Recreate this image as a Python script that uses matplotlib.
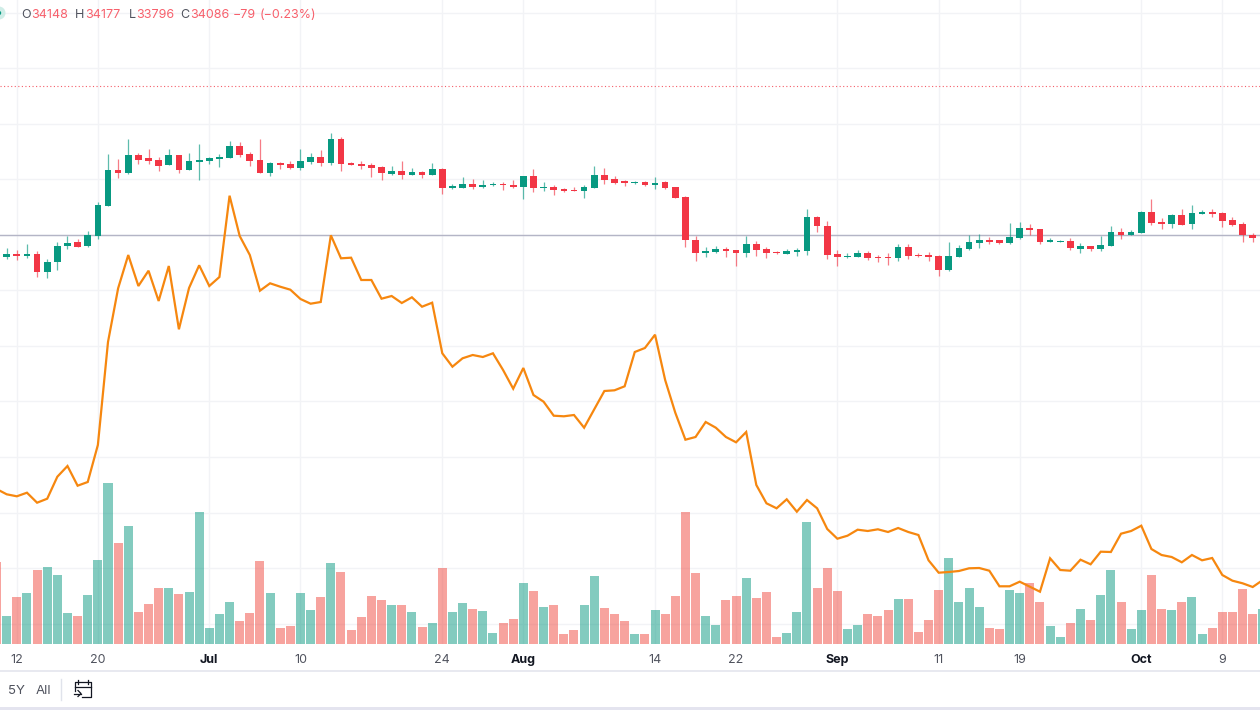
#! /usr/bin/env python3

import numpy as np
import matplotlib.pyplot as plt
from matplotlib.patches import Circle, Rectangle

plt.rcParams['font.family'] = ['Inter', 'DejaVu Sans']

opens = [33100, 33220, 33145, 33220, 32425, 32860, 33565, 33775, 33565, 34030,
         35395, 37015, 36865, 37660, 37540, 37435, 37240, 37660, 37015, 37375,
         37420, 37495, 37540, 38080, 37705, 37450, 36850, 37330, 37270, 37105,
         37360, 37570, 37315, 38380, 37315, 37270, 37240, 37150, 36805, 36940,
         36775, 36910, 36775, 37060, 36190, 36205, 36385, 36220, 36310, 36385,
         36340, 36220, 36730, 36175, 36220, 36130, 36100, 36055, 36175, 36760,
         36595, 36490, 36400, 36475, 36310, 36445, 36220, 35800, 33850, 33280,
         33310, 33430, 33385, 33280, 33685, 33430, 33310, 33235, 33310, 33355,
         34870, 34480, 33220, 33070, 33100, 33265, 33100, 33070, 33025, 33520,
         33190, 33190, 33145, 32485, 33100, 33445, 33730, 33865, 33835, 33730,
         33955, 34405, 34330, 33775, 33775, 33820, 33445, 33565, 33445, 33580,
         34225, 34090, 34165, 35110, 34660, 34570, 34960, 34585, 35035, 35125,
         35080, 34750, 34570, 34075]
closes = [33220, 33145, 33235, 32425, 32875, 33595, 33730, 33550, 34075, 35410,
          37015, 36850, 37660, 37450, 37405, 37195, 37660, 37015, 37405, 37450,
          37540, 37570, 38080, 37660, 37405, 36865, 37315, 37240, 37105, 37405,
          37570, 37315, 38380, 37270, 37240, 37195, 37105, 36850, 36940, 36775,
          36895, 36775, 37060, 36190, 36280, 36385, 36220, 36340, 36385, 36310,
          36220, 36730, 36190, 36220, 36100, 36070, 36055, 36220, 36775, 36550,
          36430, 36400, 36475, 36310, 36430, 36175, 35755, 33835, 33280, 33355,
          33445, 33355, 33280, 33685, 33400, 33280, 33250, 33355, 33400, 34870,
          34465, 33190, 33070, 33130, 33265, 33055, 33025, 33025, 33520, 33145,
          33130, 33085, 32485, 33130, 33475, 33760, 33865, 33760, 33730, 33985,
          34405, 34285, 33775, 33835, 33820, 33475, 33580, 33445, 33610, 34225,
          34075, 34195, 35125, 34615, 34570, 34960, 34540, 35080, 35125, 35035,
          34705, 34540, 34075, 33955]
highs = [33475, 33385, 33685, 33340, 33010, 33745, 34015, 33895, 34240, 35545,
         37705, 37480, 38380, 37780, 37945, 37600, 37945, 37660, 37780, 38170,
         37600, 37735, 38290, 38245, 37810, 38380, 37375, 37360, 37390, 37945,
         37750, 37900, 38665, 38500, 37345, 37390, 37315, 37180, 37180, 37390,
         37075, 36970, 37315, 37090, 36385, 36685, 36595, 36550, 36445, 36475,
         36550, 36730, 37030, 36445, 36340, 36190, 36235, 36310, 37195, 37105,
         36730, 36550, 36520, 36490, 36685, 36490, 36250, 35815, 34015, 33535,
         33565, 33550, 33400, 34030, 33820, 33535, 33340, 33430, 33490, 35245,
         34915, 34705, 33400, 33250, 33400, 33340, 33160, 33265, 33655, 33685,
         33250, 33310, 33160, 33775, 33640, 34090, 34105, 33985, 33850, 34615,
         34660, 34570, 34345, 33940, 33865, 33940, 33700, 33595, 34030, 34495,
         34405, 34285, 35155, 35680, 34840, 35020, 35245, 35425, 35185, 35245,
         35095, 34870, 34660, 34150]
lows = [32980, 32935, 33025, 32200, 32155, 32515, 33445, 33520, 33535, 33910,
        35380, 36640, 36835, 37270, 37270, 36940, 37225, 36880, 37015, 36550,
        37270, 37150, 37525, 37570, 37195, 36850, 36730, 37060, 37060, 36985,
        37270, 37195, 37225, 36970, 37225, 37060, 36685, 36550, 36790, 36595,
        36760, 36640, 36775, 35935, 36145, 36205, 36130, 36205, 36295, 36100,
        36205, 35680, 36010, 36040, 35890, 36010, 36055, 35740, 36175, 36385,
        36355, 36265, 36385, 36295, 36145, 36145, 35755, 33520, 32890, 33100,
        33280, 33100, 32680, 33100, 33145, 33055, 33235, 33220, 33145, 33190,
        34195, 32980, 32695, 33055, 33085, 32935, 32860, 32725, 32890, 32980,
        33085, 32890, 32245, 32470, 33070, 33415, 33490, 33685, 33655, 33655,
        33910, 34090, 33655, 33745, 33760, 33415, 33280, 33370, 33370, 33565,
        33910, 34090, 34165, 34540, 34360, 34390, 34540, 34360, 35005, 34885,
        34450, 34495, 33775, 33775]

# these two lists run one bar further on each side, cut by the window
volumes = [248,
           85, 143, 154, 222, 233, 208, 95, 85, 149, 253,
           483, 303, 354, 98, 121, 169, 169, 152, 157, 396,
           50, 90, 127, 70, 95, 250, 154, 50, 54, 154,
           104, 141, 244, 217, 43, 82, 146, 132, 118, 118,
           98, 53, 64, 228, 98, 123, 106, 101, 33, 64,
           76, 185, 160, 112, 118, 31, 42, 118, 205, 109,
           90, 70, 31, 31, 104, 90, 146, 396, 213, 84,
           59, 132, 146, 199, 138, 157, 22, 33, 98, 368,
           169, 228, 160, 47, 59, 90, 84, 104, 135, 135,
           36, 73, 163, 258, 126, 169, 112, 50, 45, 163,
           154, 183, 126, 56, 22, 64, 106, 73, 149, 222,
           126, 45, 104, 208, 106, 104, 126, 141, 31, 48,
           98, 98, 166, 90, 106]
indicator = [161,
             155.7, 153.7, 157.3, 147.3, 151.3, 173.3, 184, 164.3, 168, 205,
             308, 361.7, 395, 364, 379.3, 349, 384, 320.7, 362, 384.7,
             364, 373, 454.3, 414, 395, 359.3, 366.7, 363.3, 360.3, 351,
             346.3, 348, 414.7, 391.7, 392.3, 370, 370, 351.3, 354, 347,
             352.7, 343.3, 347.3, 296.7, 283.3, 291.7, 295, 293, 296.7, 280,
             261.3, 282, 255, 248.3, 234.3, 233.7, 235, 222.3, 240.7, 259,
             259.7, 263.7, 298, 302, 315.3, 270, 237.3, 210.3, 213, 228,
             222.3, 213, 207.7, 218, 165, 146.7, 141.7, 150.7, 138.3, 150,
             141.7, 121, 111.3, 114.3, 120.3, 119, 120.7, 118, 122, 118,
             115, 89.7, 77.3, 78, 79, 81.7, 82, 79.3, 63.7, 63.7,
             68.3, 63.3, 58.3, 91.7, 80, 79.3, 90.3, 85.7, 98.3, 98,
             116.3, 119, 124.3, 101, 95, 93, 87.7, 95, 89.7, 92,
             75, 69.3, 66.7, 63, 70]

date_ticks = [1, 9, 20, 29, 43, 51, 64, 72, 82, 92, 100, 112, 120]
date_labels = ['12', '20', 'Jul', '10', '24', 'Aug', '14', '22', 'Sep', '11', '19', 'Oct', '9']
month_labels = ['Jul', 'Aug', 'Sep', 'Oct']

last_close = 34086
alert_level = 40770
price_step = 2500

GREEN = '#089981'
RED = '#F23645'
VOL_RED = '#F0483F'
GRID = '#F2F3F6'
TEXT = '#50535E'

fig = plt.figure(figsize=(12.6, 7.1), dpi=100, facecolor='white')
ax = fig.add_axes([0, (710 - 644.3) / 710, 1, 644.3 / 710])
ax_vol = ax.twinx()
ax_ind = ax.twinx()

x = np.arange(len(opens))
x_all = np.arange(-1, len(opens) + 1)
o, h, l, c = map(np.array, (opens, highs, lows, closes))
up = c >= o

# candles
candle_colors = np.where(up, GREEN, RED)
ax.vlines(x, l, h, colors=candle_colors, lw=0.9, alpha=0.65, zorder=3)
ax.bar(x, np.abs(c - o), bottom=np.minimum(o, c), width=0.66, color=candle_colors, zorder=4)
ax.axhline(last_close, color='#B4B5C6', lw=1, zorder=2)
ax.axhline(alert_level, color=RED, lw=0.8, ls=(0, (1, 2.2)), alpha=0.8, zorder=2)

# volume
vol_up = np.concatenate(([False], up, [True]))
ax_vol.bar(x_all, volumes, width=0.89, color=np.where(vol_up, GREEN, VOL_RED), alpha=0.5, lw=0)

# orange line
ax_ind.plot(x_all, indicator, color='#F6870F', lw=1.6, solid_joinstyle='miter')

ax.set_xlim(-0.661, 123.72)
ax.set_ylim(44650 - 45 * 644.3, 44650)
ax_vol.set_ylim(0, 644.3 * 3)
ax_ind.set_ylim(650 - 644.3, 650)

ax.set_xticks(date_ticks, date_labels)
ax.set_yticks(last_close + price_step * np.arange(-7, 5))
ax.tick_params(axis='both', length=0, labelleft=False)
ax.tick_params(axis='x', pad=7, labelsize=9, labelcolor=TEXT)
for lab in ax.get_xticklabels():
    if lab.get_text() in month_labels:
        lab.set_fontweight('bold')
        lab.set_color('#131722')
ax.grid(True, color=GRID, lw=1)
ax.set_axisbelow(True)
for a in (ax, ax_vol, ax_ind):
    a.set_yticks(a.get_yticks() if a is ax else [])
    for s in a.spines.values():
        s.set_visible(False)

# header and toolbar, in pixels of the picture
ui = fig.add_axes([0, 0, 1, 1])
ui.set_xlim(0, 1260)
ui.set_ylim(710, 0)
ui.axis('off')
ui.patch.set_alpha(0)

ui.add_patch(Circle((-1, 13), 6.5, color='#CFEDE7', lw=0))
ui.add_patch(Circle((-1, 13), 2.2, color=GREEN, lw=0))

legend_dark = '#50535E'
legend_red = '#F7606C'
for px, txt, col in [(21, 'O', legend_dark), (31.5, '34148', legend_red),
                     (75, 'H', legend_dark), (85, '34177', legend_red),
                     (129, 'L', legend_dark), (136.5, '33796', legend_red),
                     (180, 'C', legend_dark), (190, '34086', legend_red),
                     (233, '\u221279', legend_red), (260, '(\u22120.23%)', legend_red)]:
    ui.text(px, 18, txt, color=col, fontsize=9, va='baseline', ha='left')

ui.axhline(670.5, color='#E6E7EF', lw=1.3)
ui.add_patch(Rectangle((0, 707), 1260, 3.5, color='#E4E4EF', lw=0))
ui.text(8, 690.5, '5Y', color=TEXT, fontsize=9.5, va='center', ha='left')
ui.text(36, 690.5, 'All', color=TEXT, fontsize=9.5, va='center', ha='left')
ui.plot([60.5, 60.5], [679, 700], color='#E0E3EB', lw=1)

# calendar icon
icon = '#131722'
ui.plot([74.5, 74.5, 90.5, 90.5, 82], [691, 682, 682, 696.5, 696.5], color=icon, lw=0.9)
ui.plot([74.5, 90.5], [687, 687], color=icon, lw=0.9)
ui.plot([77.5, 77.5], [680, 683.5], color=icon, lw=0.9)
ui.plot([87.5, 87.5], [680, 683.5], color=icon, lw=0.9)
ui.plot([73.5, 81], [693.5, 693.5], color=icon, lw=0.9)
ui.plot([78, 81, 78], [690.5, 693.5, 696.5], color=icon, lw=0.9)

fig.savefig('out.png', dpi=100)
